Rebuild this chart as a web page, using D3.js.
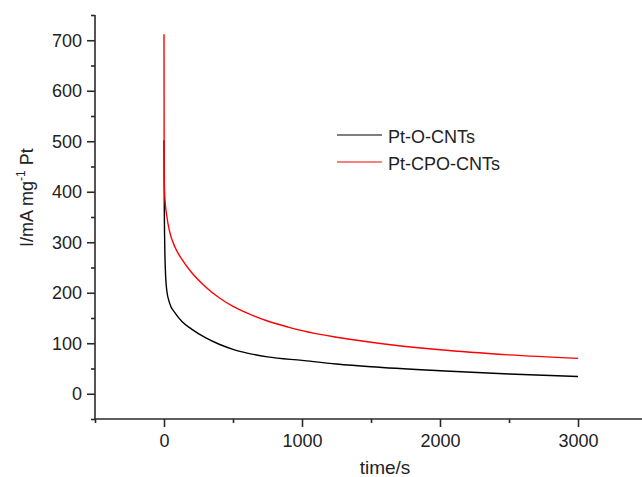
<html>
<head>
<style>
  body { margin: 0; background: #fff; }
  text { font-family: Arial, "Liberation Sans", sans-serif; }
</style>
</head>
<body>
<svg id="chart" width="642" height="477"></svg>
<script src="https://d3js.org/d3.v7.min.js"></script>
<script>

// time (s) and current (mA/mg Pt)
var timeO   = [0, 1, 2, 5, 10, 20, 40, 80, 130, 200, 300, 400, 500, 750, 1000, 1250, 1500, 2000, 2500, 3000];
var currO   = [502, 440, 380, 300, 245, 205, 180, 160, 143, 128, 111, 98, 88, 73, 66, 59, 53.5, 45.5, 39, 34];

var timeCPO = [0, 1, 2, 5, 10, 20, 40, 80, 130, 200, 300, 400, 500, 600, 750, 900, 1000, 1250, 1500, 2000, 2500, 3000];
var currCPO = [712, 500, 422, 395, 375, 352, 322, 290, 266, 240, 212, 190, 173, 160, 144, 132, 125, 112, 102, 87, 77, 70];

var seriesNames  = ["Pt-O-CNTs", "Pt-CPO-CNTs"];
var seriesColors = ["#000000", "#ff0000"];

var xMajor = [0, 1000, 2000, 3000];
var xMinor = [-500, 500, 1500, 2500, 3500];
var yMajor = [0, 100, 200, 300, 400, 500, 600, 700];
var yMinor = [-50, 50, 150, 250, 350, 450, 550, 650, 750];

var svg = d3.select("#chart");

var x = d3.scaleLinear().domain([-500, 3500]).range([95, 647]);
var y = d3.scaleLinear().domain([-50, 750]).range([419, 15]);

var axisColor = "#2a2a2a";

// curves
var line = d3.line()
  .curve(d3.curveMonotoneX)
  .x(function(d) { return x(d[0]) })
  .y(function(d) { return y(d[1]) });

var data = [d3.zip(timeO, currO), d3.zip(timeCPO, currCPO)];

svg.selectAll("path.curve")
  .data(data)
  .enter()
  .append("path")
    .attr("class", "curve")
    .attr("d", function(d) { return line(d) })
    .attr("fill", "none")
    .attr("stroke", function(d, i) { return seriesColors[i] })
    .attr("stroke-width", 1.4);

// y axis
var gy = svg.append("g")
  .attr("transform", "translate(95,0)")
  .call(d3.axisLeft(y).tickValues(yMajor).tickSize(8).tickPadding(5).tickFormat(d3.format("d")));
svg.append("g")
  .attr("transform", "translate(95,0)")
  .call(d3.axisLeft(y).tickValues(yMinor).tickSize(4).tickFormat(""))
  .select(".domain").remove();

// x axis
var gx = svg.append("g")
  .attr("transform", "translate(0,419)")
  .call(d3.axisBottom(x).tickValues(xMajor).tickSize(8).tickPadding(7).tickFormat(d3.format("d")));
svg.append("g")
  .attr("transform", "translate(0,419)")
  .call(d3.axisBottom(x).tickValues(xMinor).tickSize(4).tickFormat(""))
  .select(".domain").remove();

gy.select(".domain").attr("d", "M0," + y(750) + "V" + y(-50));
gx.select(".domain").attr("d", "M" + x(-500) + ",0H" + x(3500));

svg.selectAll(".domain, .tick line")
  .attr("stroke", axisColor)
  .attr("stroke-width", 1.6);
svg.selectAll(".tick text")
  .attr("fill", "#222")
  .style("font-size", "18px");

// axis titles
svg.append("text")
  .attr("x", 385)
  .attr("y", 474)
  .attr("text-anchor", "middle")
  .attr("fill", "#222")
  .style("font-size", "19px")
  .text("time/s");

var yt = svg.append("text")
  .attr("transform", "translate(33,247) rotate(-90)")
  .attr("fill", "#222")
  .style("font-size", "18px");
yt.append("tspan").text("I/mA mg");
yt.append("tspan").attr("dy", -8).style("font-size", "12px").text("-1");
yt.append("tspan").attr("dy", 8).text(" Pt");

// legend
var legY = [135, 162];
svg.selectAll("line.leg")
  .data(seriesNames)
  .enter()
  .append("line")
    .attr("x1", 337).attr("x2", 382)
    .attr("y1", function(d, i) { return legY[i] })
    .attr("y2", function(d, i) { return legY[i] })
    .attr("stroke", function(d, i) { return seriesColors[i] })
    .attr("stroke-width", 1.2);

svg.selectAll("text.leg")
  .data(seriesNames)
  .enter()
  .append("text")
    .attr("x", 388)
    .attr("y", function(d, i) { return legY[i] + 8 })
    .attr("fill", "#222")
    .style("font-size", "18px")
    .text(function(d) { return d });

</script>
</body>
</html>
